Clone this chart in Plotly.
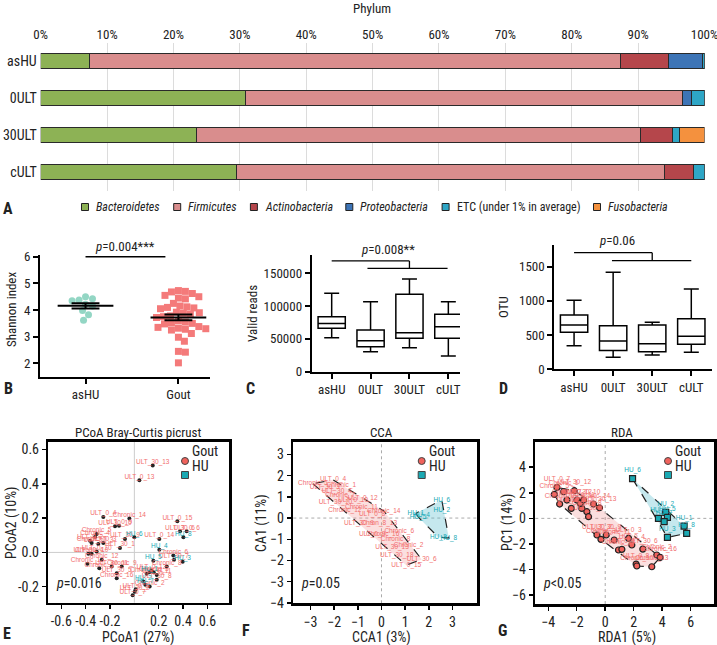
import plotly.graph_objects as go
import numpy as np

W, H = 717, 645
FONT = "Roboto Condensed, DejaVu Sans Condensed, Roboto, Arial, sans-serif"
LBLFONT = "Liberation Sans, Arial, sans-serif"

# ---------------- DATA ----------------
groups = ["asHU", "0ULT", "30ULT", "cULT"]
phyla = ["Bacteroidetes", "Firmicutes", "Actinobacteria", "Proteobacteria",
         "ETC (under 1% in average)", "Fusobacteria"]
phyla_italic = [True, True, True, True, False, True]
bacteroidetes = [7.3, 30.9, 23.5, 29.5]
firmicutes = [80.0, 65.8, 66.8, 64.4]
actinobacteria = [7.3, 0.0, 4.9, 4.4]
proteobacteria = [5.05, 1.4, 0.0, 0.0]
etc_under1 = [0.35, 1.9, 1.0, 1.7]
fusobacteria = [0.0, 0.0, 3.8, 0.0]
phyla_colors = ["#8db255", "#d98d8d", "#b5464b", "#3d74b6", "#2ea6c6", "#f4913e"]

shannon_groups = ["asHU", "Gout"]
shannon_ashu = [4.50, 4.42, 4.38, 4.35, 4.22, 4.15, 3.98, 3.82, 3.62]
shannon_gout = [4.73, 4.70, 4.68, 4.62, 4.55, 4.50, 4.45, 4.42, 4.25, 4.15, 4.12,
                4.10, 4.08, 4.05, 3.92, 3.90, 3.88, 3.85, 3.78, 3.75, 3.72, 3.60,
                3.55, 3.52, 3.50, 3.48, 3.38, 3.35, 3.32, 3.30, 3.28, 3.25, 3.12,
                2.98, 2.83, 2.45, 2.42, 2.02]

reads_q1 = [66100, 38100, 50900, 50900]
reads_med = [73700, 47300, 59500, 68600]
reads_q3 = [84000, 63600, 118000, 87500]
reads_lo = [51900, 30500, 36600, 23900]
reads_hi = [119500, 106800, 141400, 106800]

otu_q1 = [541, 273, 258, 365]
otu_med = [648, 414, 375, 482]
otu_q3 = [794, 638, 648, 740]
otu_lo = [346, 175, 209, 248]
otu_hi = [1008, 1417, 687, 1174]

# PCoA (E)
pcoa_labels = ["ULT_30_13", "ULT_0_13", "ULT_0_4", "Chronic_14", "ULT_30_10", "ULT_0_9",
               "Chronic_5", "ULT_30_9", "HU_6", "ULT_30_1", "ULT_0_15", "ULT_30_6",
               "ULT_0_6", "HU_8", "ULT_0_14", "HU_4", "ULT_0_2", "Chronic_4", "ULT_30_3",
               "Chronic_7", "ULT_0_3", "ULT_30_4", "Chronic_10", "ULT_0_10", "Chronic_13",
               "Chronic_12", "Chronic_1", "ULT_30_11", "Chronic_9", "ULT_30_5", "Chronic_16",
               "HU_5", "Chronic_6", "ULT_30_7", "HU_3", "Chronic_8", "ULT_0_12", "HU_1",
               "Chronic_3", "Chronic_11", "ULT_0_11", "HU_2", "ULT_30_8", "HU_7",
               "Chronic_2", "ULT_0_8", "ULT_30_2", "ULT_0_7"]
pcoa_x = [0.151, 0.041, -0.255, -0.041, -0.159, -0.126, -0.310, -0.077, 0.000, -0.118,
          0.353, 0.375, 0.430, 0.403, 0.205, 0.205, -0.364, -0.323, -0.296, -0.351,
          -0.255, -0.378, -0.351, -0.310, -0.386, -0.268, -0.288, -0.186, -0.104,
          -0.145, -0.145, 0.156, 0.320, 0.326, 0.397, 0.266, 0.140, 0.126, 0.159,
          0.101, 0.184, 0.074, 0.184, 0.090, 0.126, 0.011, 0.003, -0.014]
pcoa_y = [0.507, 0.420, 0.207, 0.197, 0.152, 0.156, 0.107, 0.078, 0.088, 0.025,
          0.181, 0.123, 0.123, 0.088, 0.078, 0.016, 0.068, 0.090, 0.049, 0.055,
          0.055, -0.008, -0.008, 0.006, -0.066, -0.043, -0.092, -0.082, -0.082,
          -0.121, -0.150, -0.049, -0.018, -0.043, -0.055, -0.082, -0.106, -0.115,
          -0.115, -0.125, -0.131, -0.170, -0.160, -0.189, -0.199, -0.215, -0.229, -0.250]

# CCA (F)
cca_gout_labels = ["Chronic_5", "ULT_0_4", "Chronic_1", "ULT_30_3", "ULT_30_4", "Chronic_7",
                   "ULT_0_12", "ULT_0_10", "ULT_30_10", "Chronic_11", "Chronic_12", "ULT_0_8",
                   "Chronic_14", "Chron_8_13", "Chronic_16", "Chronic_6", "ULT_0_9",
                   "Chronic_8", "Chronic_2", "ULT_30_13", "ULT_30_18", "ULT_30_6",
                   "ULT_0_15", "ULT_30_9"]
cca_gout_x = [-2.9, -2.05, -1.7, -2.4, -1.9, -1.75, -0.8, -1.2, -1.95, -0.85, -1.55, -0.4,
              0.1, -0.1, 0.05, 0.75, -0.4, 0.6, 1.15, 0.45, 0.65, 1.7, 1.05, -0.95]
cca_gout_y = [1.62, 1.8, 1.55, 1.45, 1.25, 1.05, 0.95, 0.85, 0.75, 0.5, 0.35, 0.15,
              0.33, -0.25, -0.75, -0.65, -0.78, -1.0, -1.3, -1.38, -1.75, -1.95, -2.22, -0.25]
cca_hu_labels = ["HU_6", "HU_1", "HU_5", "HU_2", "HU_3", "HU_8", "HU_4"]
cca_hu_x = [2.55, 1.45, 1.55, 2.55, 2.4, 2.85, 1.7]
cca_hu_y = [0.85, 0.22, 0.05, 0.35, -0.9, -0.95, 0.12]

# RDA (G)
rda_gout_labels = ["Chronic_5", "Chronic_9", "Chronic_1", "Chronic_7", "ULT_30_12", "ULT_30_4",
                   "ULT_0_12", "ULT_0_10", "Chronic_8", "ULT_30_1", "Chronic_14", "ULT_30_13",
                   "ULT_0_7", "ULT_30_2", "Chronic_3", "ULT_30_9", "Chronic_11", "Chronic_12",
                   "ULT_0_9", "ULT_0_3", "ULT_0_4", "ULT_30_6", "ULT_0_8", "Chronic_10",
                   "Chronic_13", "Chronic_2", "Chronic_16", "ULT_0_11", "ULT_30_10"]
rda_gout_x = [-3.57, -3.2, -2.92, -2.69, -2.17, -2.38, -1.99, -1.64, -1.29, -1.17, -0.82, -0.4,
              -3.39, -0.58, -0.3, 0.07, 0.63, 0.93, 1.17, 1.64, 1.87, 2.64, 2.17, 2.22,
              3.27, 3.62, 3.86, -1.75, -1.52]
rda_gout_y = [1.875, 1.12, 2.08, 1.43, 2.16, 0.78, 1.43, 0.78, 0.52, 0.13, 1.12, 0.83,
              2.42, -1.30, -1.64, -1.3, -1.69, -2.47, -2.42, -1.56, -2.08, -2.40, -3.57, -3.72,
              -3.78, -2.86, -3.05, 1.17, 1.43]
rda_hu_labels = ["HU_6", "HU_2", "HU_5", "HU_4", "HU_7", "HU_1", "HU_8", "HU_3"]
rda_hu_x = [1.92, 4.25, 4.37, 3.74, 4.14, 5.54, 5.72, 4.37]
rda_hu_y = [3.1, 0.47, 0.08, 0.0, -0.26, -0.6, -1.17, -1.48]

GOUT_C = "#f0625c"
HU_C = "#1aa9b3"
GOUT_T = "#f26e6e"
HU_T = "#17aab6"


# ---------------- helpers ----------------
def xd(a, b):
    return [a / W, b / W]


def yd(top, bottom):
    return [1 - bottom / H, 1 - top / H]


def px(x):
    return x / W


def py(y):
    return 1 - y / H


def convex_hull(xs, ys):
    pts = sorted(set(zip(xs, ys)))

    def cross(o, a, b):
        return (a[0] - o[0]) * (b[1] - o[1]) - (a[1] - o[1]) * (b[0] - o[0])

    lower, upper = [], []
    for p in pts:
        while len(lower) >= 2 and cross(lower[-2], lower[-1], p) <= 0:
            lower.pop()
        lower.append(p)
    for p in reversed(pts):
        while len(upper) >= 2 and cross(upper[-2], upper[-1], p) <= 0:
            upper.pop()
        upper.append(p)
    hull = lower[:-1] + upper[:-1]
    hull.append(hull[0])
    return [p[0] for p in hull], [p[1] for p in hull]


def swarm(vals, diam, xppu, yppu):
    order = np.argsort(vals)[::-1]
    placed = []
    offs = [0.0] * len(vals)
    for i in order:
        yp = vals[i] * yppu
        best = None
        k = 0
        while best is None:
            for s in ([1] if k == 0 else [1, -1]):
                dx = s * k * 0.5
                if all((dx - a) ** 2 + (yp - b) ** 2 >= diam ** 2 for a, b in placed):
                    best = dx
                    break
            k += 1
        placed.append((best, yp))
        offs[i] = best / xppu
    return offs


fig = go.Figure()
shapes = []
ann = []

# ---------------- A: stacked bars ----------------
series = [bacteroidetes, firmicutes, actinobacteria, proteobacteria, etc_under1, fusobacteria]
for name, vals, col in zip(phyla, series, phyla_colors):
    fig.add_trace(go.Bar(y=groups, x=vals, orientation="h", name=name, width=0.43,
                         marker=dict(color=col, line=dict(color="#2a2a2a", width=1)),
                         showlegend=False, xaxis="x", yaxis="y"))

# custom legend row
leg_x = [85, 177.2, 253.9, 349.3, 445.6, 597]
for name, col, it, lx in zip(phyla, phyla_colors, phyla_italic, leg_x):
    shapes.append(dict(type="rect", xref="paper", yref="paper",
                       x0=px(lx - 3.5), x1=px(lx + 3.5), y0=py(207 + 3.5), y1=py(207 - 3.5),
                       fillcolor=col, line=dict(color="#222", width=1)))
    ann.append(dict(xref="paper", yref="paper", x=px(lx + 9), y=py(207), xanchor="left",
                    yanchor="middle", showarrow=False,
                    text=("<i>%s</i>" % name) if it else name,
                    font=dict(family=FONT, size=12, color="#222")))

# ---------------- B: Shannon ----------------
XB = 93.3
YB = 26.67
off_a = swarm(shannon_ashu, 7.0, XB, YB)
off_g = swarm(shannon_gout, 7.0, XB, YB)
fig.add_trace(go.Scatter(x=[0 + o for o in off_a], y=shannon_ashu, mode="markers",
                         marker=dict(symbol="circle", size=7, color="#93d6c4"),
                         showlegend=False, xaxis="x2", yaxis="y2", cliponaxis=False))
fig.add_trace(go.Scatter(x=[1 + o for o in off_g], y=shannon_gout, mode="markers",
                         marker=dict(symbol="square", size=7, color="#f47a7a"),
                         showlegend=False, xaxis="x2", yaxis="y2", cliponaxis=False))
for xi, vals in enumerate([shannon_ashu, shannon_gout]):
    m = float(np.mean(vals))
    se = float(np.std(vals, ddof=1) / np.sqrt(len(vals)))
    lx = [xi - 0.3, xi + 0.3, None, xi, xi, None, xi - 0.15, xi + 0.15, None, xi - 0.15, xi + 0.15]
    ly = [m, m, None, m - se, m + se, None, m - se, m - se, None, m + se, m + se]
    fig.add_trace(go.Scatter(x=lx, y=ly, mode="lines", line=dict(color="black", width=2),
                             showlegend=False, xaxis="x2", yaxis="y2"))
shapes.append(dict(type="line", xref="x2", yref="y2", x0=0, x1=0.86, y0=6.0, y1=6.0,
                   line=dict(color="black", width=1.3)))
ann.append(dict(xref="x2", yref="paper", x=0.43, y=py(247), text="<i>p</i>=0.004***",
                showarrow=False, font=dict(family=FONT, size=13, color="#222")))

# ---------------- C & D: boxes ----------------
for (q1, med, q3, lo, hi, xa, ya) in [(reads_q1, reads_med, reads_q3, reads_lo, reads_hi, "x3", "y3"),
                                       (otu_q1, otu_med, otu_q3, otu_lo, otu_hi, "x4", "y4")]:
    fig.add_trace(go.Box(x=[0, 1, 2, 3], q1=q1, median=med, q3=q3, lowerfence=lo, upperfence=hi,
                         width=0.7, whiskerwidth=0.55, fillcolor="white",
                         line=dict(color="black", width=1.5), showlegend=False,
                         xaxis=xa, yaxis=ya, hoverinfo="skip"))


def bracket(xa, ya, top, low, xl, xm, xr1, xr2):
    shapes.append(dict(type="line", xref=xa, yref=ya, x0=xl, x1=xm, y0=top, y1=top,
                       line=dict(color="black", width=1.3)))
    shapes.append(dict(type="line", xref=xa, yref=ya, x0=xm, x1=xm, y0=top, y1=low,
                       line=dict(color="black", width=1.3)))
    shapes.append(dict(type="line", xref=xa, yref=ya, x0=xr1, x1=xr2, y0=low, y1=low,
                       line=dict(color="black", width=1.3)))


bracket("x3", "y3", 169000, 157600, 0.0, 2.0, 0.92, 2.98)
bracket("x4", "y4", 1705, 1588, 0.0, 2.0, 0.97, 3.0)
ann.append(dict(xref="x3", yref="paper", x=1.45, y=py(249), text="<i>p</i>=0.008**",
                showarrow=False, font=dict(family=FONT, size=13, color="#222")))
ann.append(dict(xref="x4", yref="paper", x=1.1, y=py(241), text="<i>p</i>=0.06",
                showarrow=False, font=dict(family=FONT, size=13, color="#222")))

# ---------------- E: PCoA ----------------
is_hu = [l.startswith("HU") for l in pcoa_labels]
fig.add_trace(go.Scatter(x=pcoa_x, y=pcoa_y, mode="markers",
                         marker=dict(size=4, color="#222"), showlegend=False,
                         xaxis="x5", yaxis="y5"))
for flag, col in [(False, GOUT_T), (True, HU_T)]:
    xs = [x for x, h in zip(pcoa_x, is_hu) if h == flag]
    ys = [y for y, h in zip(pcoa_y, is_hu) if h == flag]
    ls = [l for l, h in zip(pcoa_labels, is_hu) if h == flag]
    fig.add_trace(go.Scatter(x=xs, y=ys, mode="text", text=ls, textposition="top center",
                             textfont=dict(family=LBLFONT, size=6.5, color=col),
                             showlegend=False, xaxis="x5", yaxis="y5", cliponaxis=True))

# ---------------- F: CCA ----------------
for xs, ys, fc in [(cca_gout_x, cca_gout_y, "rgba(240,140,140,0.28)"),
                   (cca_hu_x, cca_hu_y, "rgba(90,190,205,0.35)")]:
    hx, hy = convex_hull(xs, ys)
    fig.add_trace(go.Scatter(x=hx, y=hy, mode="lines", fill="toself", fillcolor=fc,
                             line=dict(color="#222", width=1.2, dash="dash"),
                             showlegend=False, xaxis="x6", yaxis="y6"))
fig.add_trace(go.Scatter(x=cca_gout_x, y=cca_gout_y, mode="text", text=cca_gout_labels,
                         textposition="middle center",
                         textfont=dict(family=LBLFONT, size=6.5, color=GOUT_T),
                         showlegend=False, xaxis="x6", yaxis="y6"))
fig.add_trace(go.Scatter(x=cca_hu_x, y=cca_hu_y, mode="text", text=cca_hu_labels,
                         textposition="middle center",
                         textfont=dict(family=LBLFONT, size=6.5, color=HU_T),
                         showlegend=False, xaxis="x6", yaxis="y6"))

# ---------------- G: RDA ----------------
for xs, ys, fc in [(rda_gout_x, rda_gout_y, "rgba(240,140,140,0.28)"),
                   (rda_hu_x, rda_hu_y, "rgba(90,190,205,0.35)")]:
    hx, hy = convex_hull(xs, ys)
    fig.add_trace(go.Scatter(x=hx, y=hy, mode="lines", fill="toself", fillcolor=fc,
                             line=dict(color="#222", width=1.2, dash="dash"),
                             showlegend=False, xaxis="x7", yaxis="y7"))
fig.add_trace(go.Scatter(x=rda_gout_x, y=rda_gout_y, mode="markers+text", text=rda_gout_labels,
                         textposition="top center",
                         textfont=dict(family=LBLFONT, size=6.5, color=GOUT_T),
                         marker=dict(symbol="circle", size=6, color=GOUT_C,
                                     line=dict(color="#222", width=1.2)),
                         showlegend=False, xaxis="x7", yaxis="y7"))
fig.add_trace(go.Scatter(x=rda_hu_x, y=rda_hu_y, mode="markers+text", text=rda_hu_labels,
                         textposition="top center",
                         textfont=dict(family=LBLFONT, size=6.5, color=HU_T),
                         marker=dict(symbol="square", size=6, color=HU_C,
                                     line=dict(color="#222", width=1.2)),
                         showlegend=False, xaxis="x7", yaxis="y7"))

# in-panel legends, zero lines
for xa, ya, cx, dash, zc in [("x5", "y5", 185, "solid", "#cccccc"),
                             ("x6", "y6", 421.7, "dot", "#aaaaaa"),
                             ("x7", "y7", 668, "dot", "#aaaaaa")]:
    shapes.append(dict(type="line", xref=xa, yref=ya + " domain", x0=0, x1=0, y0=0, y1=1,
                       line=dict(color=zc, width=1, dash=dash), layer="below"))
    shapes.append(dict(type="line", xref=xa + " domain", yref=ya, x0=0, x1=1, y0=0, y1=0,
                       line=dict(color=zc, width=1, dash=dash), layer="below"))
    shapes.append(dict(type="circle", xref="paper", yref="paper",
                       x0=px(cx - 3.5), x1=px(cx + 3.5), y0=py(461 + 3.5), y1=py(461 - 3.5),
                       fillcolor=GOUT_C, line=dict(color="#444", width=1)))
    shapes.append(dict(type="rect", xref="paper", yref="paper",
                       x0=px(cx - 3.5), x1=px(cx + 3.5), y0=py(475 + 3.5), y1=py(475 - 3.5),
                       fillcolor=HU_C, line=dict(color="#444", width=1)))
    ann.append(dict(xref="paper", yref="paper", x=px(cx + 5), y=py(461), text="Gout",
                    xanchor="left", showarrow=False, font=dict(family=FONT, size=14, color="#222")))
    ann.append(dict(xref="paper", yref="paper", x=px(cx + 5), y=py(476), text="HU",
                    xanchor="left", showarrow=False, font=dict(family=FONT, size=14, color="#222")))
ann.append(dict(xref="paper", yref="paper", x=px(54), y=py(593), text="<i>p</i>=0.016",
                xanchor="left", showarrow=False, font=dict(family=FONT, size=14, color="#222")))
ann.append(dict(xref="paper", yref="paper", x=px(299), y=py(593), text="<i>p</i>=0.05",
                xanchor="left", showarrow=False, font=dict(family=FONT, size=14, color="#222")))
ann.append(dict(xref="paper", yref="paper", x=px(541), y=py(593), text="<i>p</i><0.05",
                xanchor="left", showarrow=False, font=dict(family=FONT, size=14, color="#222")))


def txt(x, y, s, size=13, angle=0, bold=False, anchor="center"):
    ann.append(dict(xref="paper", yref="paper", x=px(x), y=py(y),
                    text=("<b>%s</b>" % s) if bold else s, textangle=angle,
                    xanchor=anchor, yanchor="middle", showarrow=False,
                    font=dict(family=FONT, size=size, color="#222")))


txt(372, 9, "Phylum", 13)
txt(138, 433, "PCoA Bray-Curtis picrust", 13)
txt(382, 433, "CCA", 13)
txt(622, 433, "RDA", 13)
txt(138, 637, "PCoA1 (27%)", 14)
txt(382, 637, "CCA1 (3%)", 14)
txt(627, 637, "RDA1 (5%)", 14)
txt(11, 523, "PCoA2 (10%)", 14, angle=-90)
txt(261, 523, "CA1 (11%)", 14, angle=-90)
txt(507, 523, "PC1 (14%)", 14, angle=-90)
txt(11, 310, "Shannon index", 13, angle=-90)
txt(252, 313, "Valid reads", 13, angle=-90)
txt(503, 307, "OTU", 13, angle=-90)
for lab, x, y in [("A", 8, 208), ("B", 8, 388), ("C", 250, 388), ("D", 504, 388),
                  ("E", 7, 633), ("F", 246, 630), ("G", 502, 630)]:
    txt(x, y, lab, 16, bold=True)

# ---------------- layout ----------------
tickf = dict(family=FONT, size=13, color="#222")
basic = dict(showline=True, linecolor="black", linewidth=2, ticks="outside", ticklen=5,
             tickwidth=2, tickcolor="black", showgrid=False, zeroline=False, tickfont=tickf,
             automargin=False)
frame = dict(showline=True, mirror=True, linecolor="black", linewidth=2.5, ticks="outside",
             ticklen=4, tickwidth=1.5, tickcolor="black", showgrid=False, zeroline=False,
             tickfont=dict(family=FONT, size=14, color="#222"), automargin=False,
             tickangle=0)

fig.update_layout(
    template="none",
    width=W, height=H, margin=dict(l=0, r=0, t=0, b=0, autoexpand=False),
    paper_bgcolor="white", plot_bgcolor="white", barmode="stack", showlegend=False,
    font=dict(family=FONT, color="#222"),
    xaxis=dict(domain=xd(40.7, 704.5), range=[0, 100], side="top", dtick=10, ticksuffix="%",
               showgrid=True, gridcolor="#dcdcdc", gridwidth=1, zeroline=False, showline=False,
               ticks="", tickfont=dict(family=FONT, size=13, color="#222"), anchor="y",
               automargin=False, tickangle=0, ticklabeloverflow="allow"),
    yaxis=dict(domain=yd(42.5, 190.5), autorange="reversed", showgrid=False, zeroline=False,
               ticks="", tickfont=dict(family=FONT, size=14, color="#222"), anchor="x",
               ticklabelstandoff=3, automargin=False, showline=False),
    xaxis2=dict(basic, domain=xd(40, 210), range=[-0.49, 1.34], tickvals=[0, 1],
                ticktext=shannon_groups, anchor="y2"),
    yaxis2=dict(basic, domain=yd(254.6, 376.7), range=[1.5, 6.08], tickvals=[2, 3, 4, 5, 6],
                anchor="x2"),
    xaxis3=dict(basic, domain=xd(311.7, 460), range=[-0.514, 3.3], tickvals=[0, 1, 2, 3],
                ticktext=groups, anchor="y3"),
    yaxis3=dict(basic, domain=yd(255, 371.7), range=[0, 178000],
                tickvals=[0, 50000, 100000, 150000],
                ticktext=["0", "50000", "100000", "150000"], anchor="x3"),
    xaxis4=dict(basic, domain=xd(554.3, 712), range=[-0.506, 3.53], tickvals=[0, 1, 2, 3],
                ticktext=groups, anchor="y4", ticklabeloverflow="allow"),
    yaxis4=dict(basic, domain=yd(245, 369.3), range=[0, 1817],
                tickvals=[0, 500, 1000, 1500], anchor="x4"),
    xaxis5=dict(frame, domain=xd(48.3, 229.3), range=[-0.707, 0.78],
                tickvals=[-0.6, -0.4, -0.2, 0.2, 0.4, 0.6],
                ticktext=["-0.6", "-0.4", "-0.2", "0.2", "0.4", "0.6"], anchor="y5"),
    yaxis5=dict(frame, domain=yd(441.7, 602.7), range=[-0.293, 0.645],
                tickvals=[-0.2, 0.0, 0.2, 0.4, 0.6],
                ticktext=["-0.2", "0.0", "0.2", "0.4", "0.6"], anchor="x5"),
    xaxis6=dict(frame, domain=xd(293.3, 477), range=[-3.73, 4.04],
                tickvals=[-3, -2, -1, 0, 1, 2, 3], anchor="y6"),
    yaxis6=dict(frame, domain=yd(441.7, 603.3), range=[-4.02, 3.6],
                tickvals=[-4, -3, -2, -1, 0, 1, 2, 3], anchor="x6"),
    xaxis7=dict(frame, domain=xd(535.3, 714), range=[-4.91, 7.64],
                tickvals=[-4, -2, 0, 2, 4, 6], anchor="y7", ticklabeloverflow="allow"),
    yaxis7=dict(frame, domain=yd(441.7, 604), range=[-6.69, 5.99],
                tickvals=[-6, -4, -2, 0, 2, 4], anchor="x7"),
    shapes=shapes, annotations=ann,
)

fig.write_html("out.html", config={"displayModeBar": False, "staticPlot": True},
               post_script="document.body.style.margin='0';document.body.style.overflow='hidden';")
